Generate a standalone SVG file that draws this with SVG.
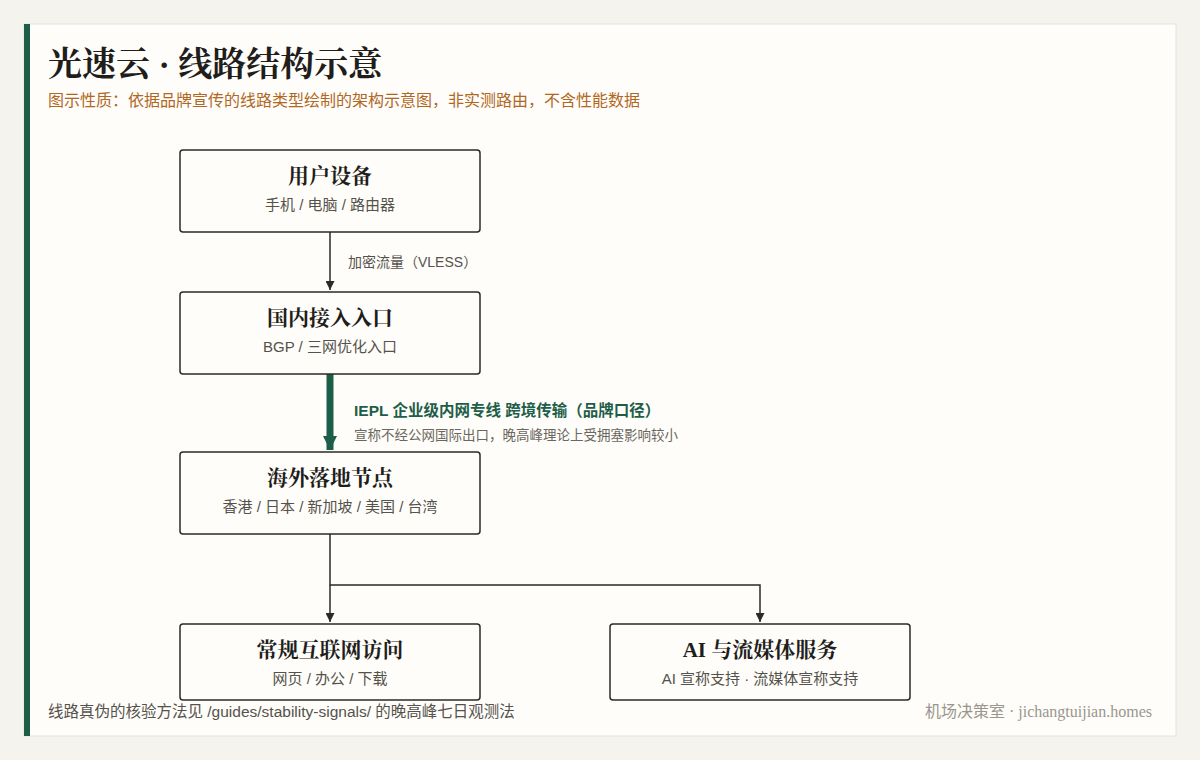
<svg xmlns="http://www.w3.org/2000/svg" width="1200" height="760" viewBox="0 0 1200 760">
<defs>
<style>
.box{fill:#fefdf9;stroke:#2b2a27;stroke-width:1.5}
.h{font-family:"Liberation Serif","Noto Serif CJK SC","Noto Sans CJK SC",serif;font-size:21px;font-weight:bold;fill:#1f1e1c;text-anchor:middle}
.s{font-family:"Liberation Sans","Noto Sans CJK SC",sans-serif;font-size:15px;fill:#55524c;text-anchor:middle}
.ln{fill:none;stroke:#2b2a27;stroke-width:1.5}
</style>
<marker id="a" viewBox="0 0 10 10" refX="10" refY="5" markerWidth="9" markerHeight="9" markerUnits="userSpaceOnUse" orient="auto"><path d="M0,0L10,5L0,10z" fill="#2b2a27"/></marker>
<marker id="g" viewBox="0 0 10 10" refX="10" refY="5" markerWidth="16" markerHeight="14" markerUnits="userSpaceOnUse" orient="auto"><path d="M0,0L10,5L0,10z" fill="#1d5e48"/></marker>
</defs>
<rect width="1200" height="760" fill="#f5f3ee"/>
<rect x="24" y="24" width="1152" height="712" fill="#fefdf9" stroke="#e6e3dc"/>
<rect x="24" y="24" width="6" height="712" fill="#1d5e48"/>
<text x="48" y="76" font-family="Liberation Serif,'Noto Serif CJK SC','Noto Sans CJK SC',serif" font-size="34" font-weight="bold" fill="#1f1e1c">光速云 · 线路结构示意</text>
<text x="48" y="106" font-family="Liberation Sans,'Noto Sans CJK SC',sans-serif" font-size="16" fill="#b0671f">图示性质：依据品牌宣传的线路类型绘制的架构示意图，非实测路由，不含性能数据</text>
<g id="connectors">
<path class="ln" d="M330,232V290" marker-end="url(#a)"/>
<path d="M330,374V450" fill="none" stroke="#1d5e48" stroke-width="7" marker-end="url(#g)"/>
<path class="ln" d="M330,534V585H760V622" marker-end="url(#a)"/>
<path class="ln" d="M330,585V622" marker-end="url(#a)"/>
<text x="348" y="267" font-family="Liberation Sans,'Noto Sans CJK SC',sans-serif" font-size="14" fill="#55524c">加密流量（VLESS）</text>
<text x="354" y="416" font-family="Liberation Sans,'Noto Sans CJK SC',sans-serif" font-size="15.5" font-weight="bold" fill="#1d5e48">IEPL 企业级内网专线 跨境传输（品牌口径）</text>
<text x="354" y="440" font-family="Liberation Sans,'Noto Sans CJK SC',sans-serif" font-size="13.5" fill="#6b6760">宣称不经公网国际出口，晚高峰理论上受拥塞影响较小</text>
</g>
<g id="n1"><rect class="box" x="180" y="150" width="300" height="82" rx="3"/><text class="h" x="330" y="183">用户设备</text><text class="s" x="330" y="210">手机 / 电脑 / 路由器</text></g>
<g id="n2"><rect class="box" x="180" y="292" width="300" height="82" rx="3"/><text class="h" x="330" y="325">国内接入入口</text><text class="s" x="330" y="352">BGP / 三网优化入口</text></g>
<g id="n3"><rect class="box" x="180" y="452" width="300" height="82" rx="3"/><text class="h" x="330" y="485">海外落地节点</text><text class="s" x="330" y="512">香港 / 日本 / 新加坡 / 美国 / 台湾</text></g>
<g id="n4"><rect class="box" x="180" y="624" width="300" height="76" rx="3"/><text class="h" x="330" y="657">常规互联网访问</text><text class="s" x="330" y="684">网页 / 办公 / 下载</text></g>
<g id="n5"><rect class="box" x="610" y="624" width="300" height="76" rx="3"/><text class="h" x="760" y="657">AI 与流媒体服务</text><text class="s" x="760" y="684">AI 宣称支持 · 流媒体宣称支持</text></g>
<text x="48" y="717" font-family="Liberation Sans,'Noto Sans CJK SC',sans-serif" font-size="15.5" fill="#55524c">线路真伪的核验方法见 /guides/stability-signals/ 的晚高峰七日观测法</text>
<text x="1152" y="717" text-anchor="end" font-family="Liberation Serif,'Noto Sans CJK SC',serif" font-size="16" fill="#9a968e">机场决策室 · jichangtuijian.homes</text>
</svg>
